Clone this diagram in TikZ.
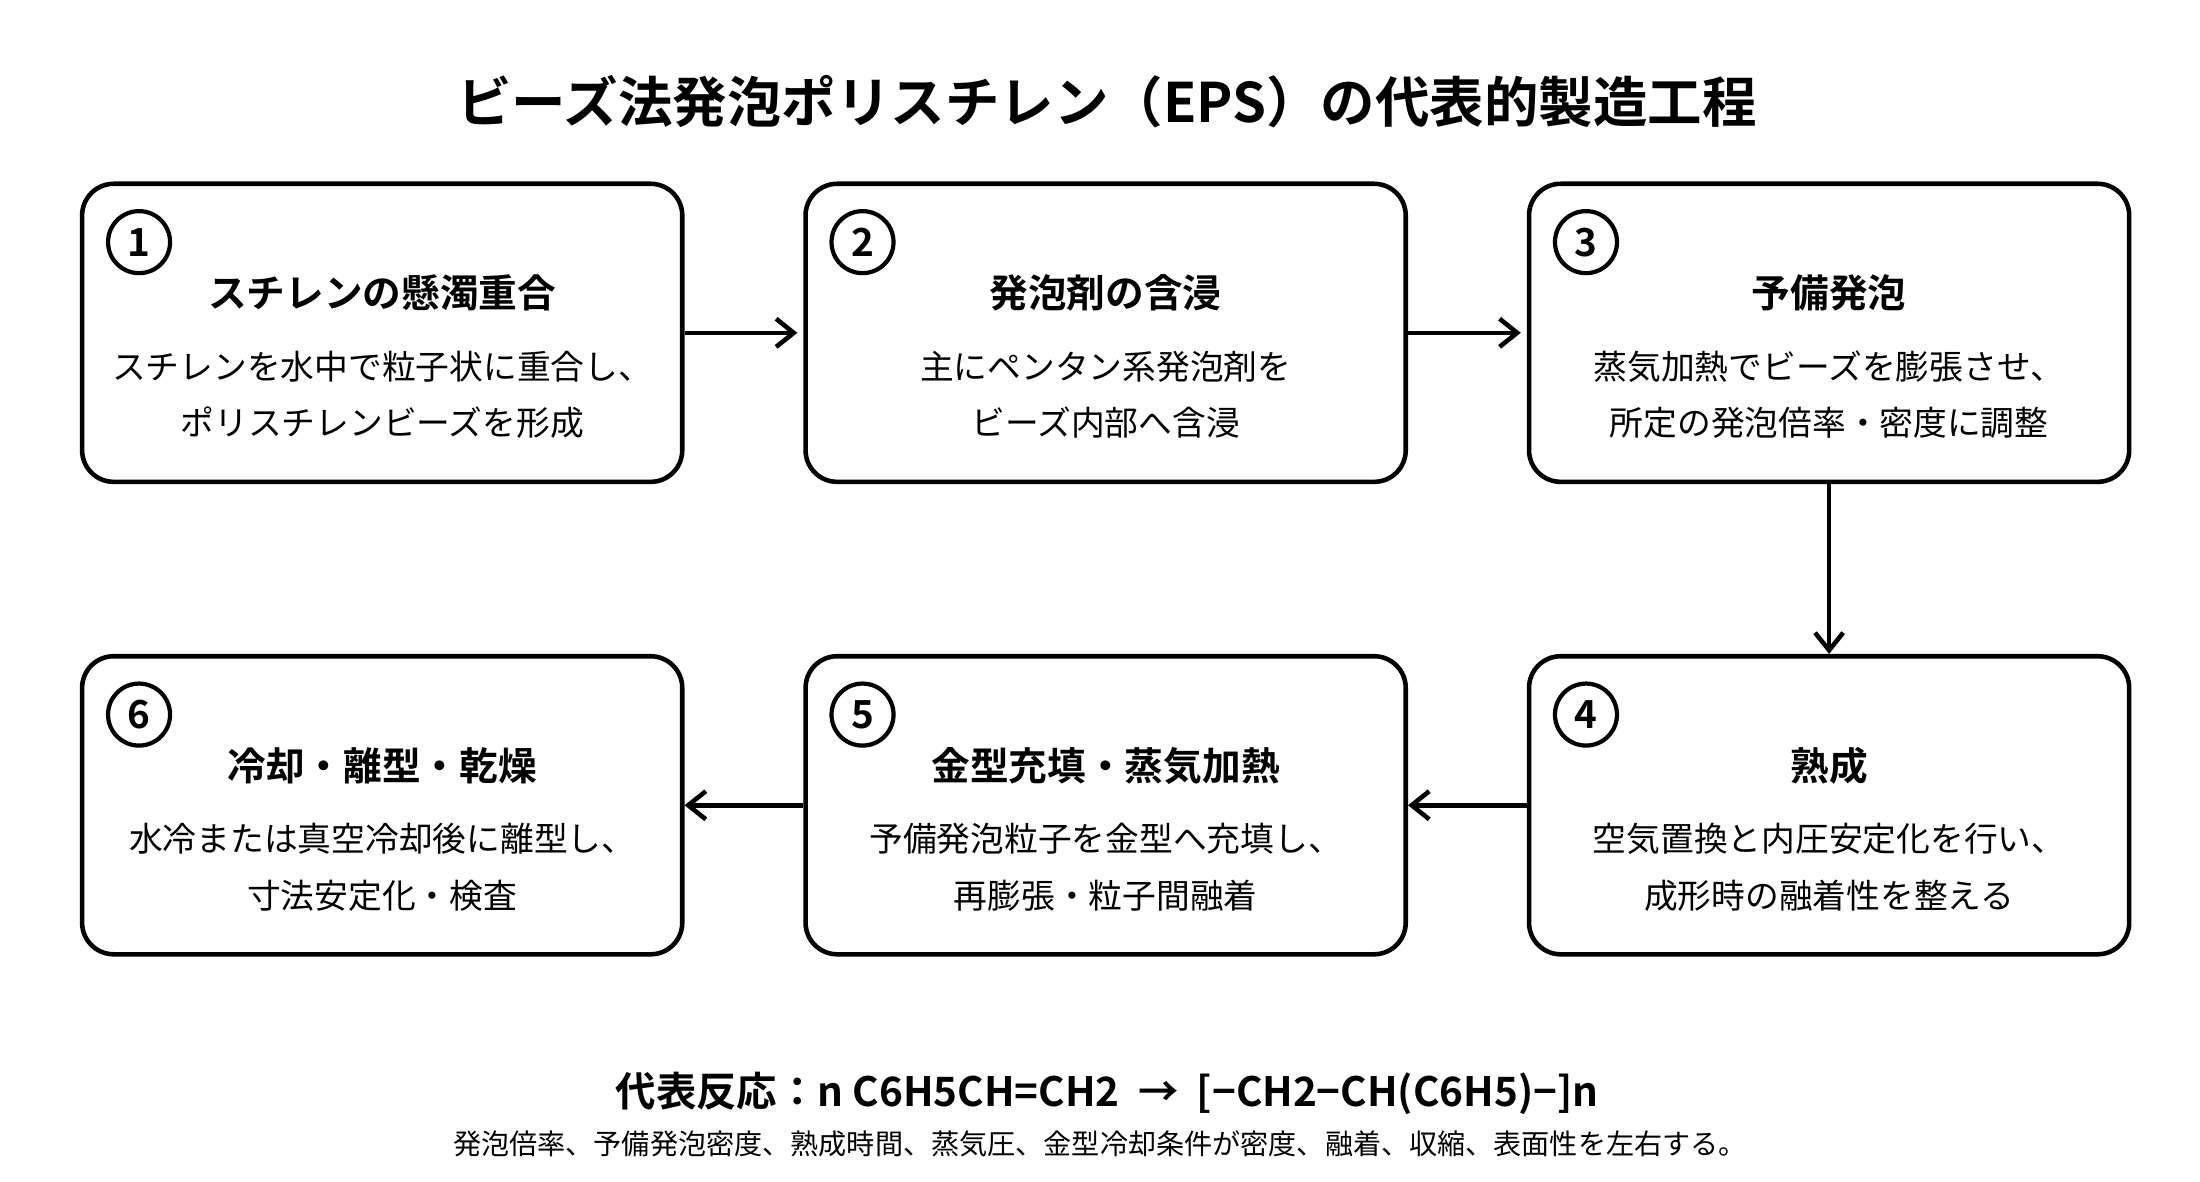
\documentclass[tikz,border=0pt]{standalone}
\usepackage{fontspec}
\setmainfont{Noto Sans CJK JP}
\newfontfamily\boldjp{Noto Sans CJK JP Bold}
\usetikzlibrary{arrows.meta,positioning,calc}
\tikzset{
  stepbox/.style={draw,line width=1.3pt,rounded corners=9pt,minimum width=6cm,minimum height=2.98cm},
  numc/.style={draw,circle,line width=1.2pt,minimum size=0.62cm,inner sep=0pt,font=\boldjp\fontsize{11}{11}\selectfont},
  headt/.style={font=\boldjp\fontsize{11}{13}\selectfont},
  bodyt/.style={font=\fontsize{9.6}{16}\selectfont,align=center},
  flow/.style={-{Straight Barb[length=5pt,width=8pt]},line width=1.3pt}
}
\begin{document}
\begin{tikzpicture}[x=0.0141cm,y=-0.0141cm]
\useasboundingbox (0,0) rectangle (1560,838);
%%%TITLE
\node[font=\boldjp\fontsize{15.5}{16}\selectfont] (title) at (785,72) {ビーズ法発泡ポリスチレン（EPS）の代表的製造工程};
%%%BOXES
\foreach \n/\x/\y/\h/\la/\lb in {
 1/271/236/スチレンの懸濁重合/スチレンを水中で粒子状に重合し、/ポリスチレンビーズを形成,
 2/784/236/発泡剤の含浸/主にペンタン系発泡剤を/ビーズ内部へ含浸,
 3/1297/236/予備発泡/蒸気加熱でビーズを膨張させ、/所定の発泡倍率・密度に調整,
 4/1297/571/熟成/空気置換と内圧安定化を行い、/成形時の融着性を整える,
 5/784/571/金型充填・蒸気加熱/予備発泡粒子を金型へ充填し、/再膨張・粒子間融着,
 6/271/571/冷却・離型・乾燥/水冷または真空冷却後に離型し、/寸法安定化・検査}{
  \node[stepbox] (b\n) at (\x,\y) {};
  \node[numc] (c\n) at ($(b\n.north west)+(42,43)$) {\n};
  \node[headt] (h\n) at (\x,\y-28) {\h};
  \node[bodyt] (t\n) at (\x,\y+44) {\la\\\lb};
}
%%%ARROWS
\draw[flow] (b1.east) -- ++(80,0);
\draw[flow] (b2.east) -- ++(80,0);
\draw[flow] (b3.south) -- (b4.north);
\draw[flow] (b4.west) -- (b5.east);
\draw[flow] (b5.west) -- (b6.east);
%%%REACTION
\node[font=\boldjp\fontsize{11.5}{12}\selectfont] (react) at (785,775) {代表反応：n C6H5CH=CH2 \ → \ [−CH2−CH(C6H5)−]n};
\node[font=\fontsize{8}{9}\selectfont] (note) at (780,811) {発泡倍率、予備発泡密度、熟成時間、蒸気圧、金型冷却条件が密度、融着、収縮、表面性を左右する。};
\end{tikzpicture}
\end{document}
